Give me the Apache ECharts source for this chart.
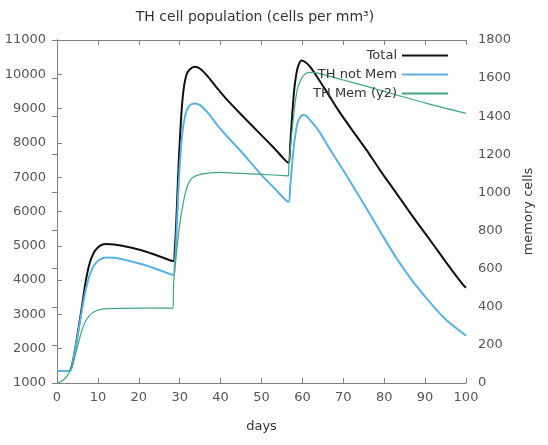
<!DOCTYPE html>
<html>
<head>
<meta charset="utf-8">
<script src="https://cdn.jsdelivr.net/npm/echarts@6/dist/echarts.min.js"></script>
<style>html,body{margin:0;padding:0;background:#fff;}#c{width:548px;height:445px;}</style>
</head>
<body>
<div id="c"></div>
<script>
var titleText = 'TH cell population (cells per mm\u00B3)';
var xTicks = {min: 0, max: 100, interval: 10};
var y1Ticks = {min: 1000, max: 11000, interval: 1000};
var y2Ticks = {min: 0, max: 1800, interval: 200};
var seriesNames = ['Total', 'TH not Mem', 'TH Mem (y2)'];

var totDays = [0,3,3.5,4,5,6,7,8,9,10,11,12,14,18,22,26,28.4,
  28.8,29.2,29.6,30,30.5,31,31.7,32.5,33.7,35,37,39,41.5,45,49.6,53,56.6,
  57,57.5,58,58.5,59,59.8,61,62,64,66,68.4,72,75.7,79,83,87,91.2,95,99.3,100];
var totVals = [1350,1350,1450,1700,2400,3150,3950,4500,4800,4950,5030,5050,5040,4950,4820,4650,4550,
  4900,5800,7000,8000,9000,9600,10000,10150,10220,10160,9920,9620,9270,8830,8270,7860,7420,
  7900,8800,9550,10000,10250,10400,10330,10200,9850,9480,9020,8400,7790,7200,6530,5850,5170,4540,3860,3780];

var notMemDays = [0,3,3.5,4,5,6,7,8,9,10,11,12,14,18,22,26,28.4,
  28.8,29.2,29.6,30,30.5,31,31.7,32.5,33.7,35,37,39,41.5,45,49.6,53,56.6,
  57,57.5,58,58.5,59,60.2,61,62,64,66.8,70,74.9,79,83,87,91.2,95,100];
var notMemVals = [1350,1350,1420,1680,2350,3050,3700,4150,4420,4560,4630,4660,4650,4550,4420,4250,4150,
  4450,5300,6400,7300,8100,8600,8950,9100,9150,9100,8860,8550,8200,7750,7120,6700,6280,
  6700,7400,8000,8400,8650,8810,8780,8650,8350,7800,7200,6240,5420,4640,3960,3350,2860,2380];

var memDays = [0,1,2,3,4,5,6,7,8,9,10,12,16,20,24,28.4,
  28.5,29,29.5,30,31,32,33,35,40,45,50,56.6,
  56.7,57,57.5,58,58.5,59,60,61,62,64,70,76,80,90,100];
var memVals = [0,8,25,55,110,190,270,325,355,372,382,390,392,393,393,393,
  520,640,740,830,960,1040,1075,1095,1105,1100,1095,1087,
  1150,1220,1330,1430,1510,1560,1605,1625,1630,1625,1590,1555,1530,1470,1415];

function zip(a, b) { return a.map(function (d, i) { return [d, b[i]]; }); }
function plain(v) { return String(v); }

var FONT = 'DejaVu Sans';
var axisLineStyle = {color: '#808080', width: 1};
var labelStyle = {color: '#555', fontSize: 13, fontFamily: FONT, formatter: plain};

var chart = echarts.init(document.getElementById('c'), null, {renderer: 'canvas'});
chart.setOption({
  animation: false,
  backgroundColor: '#fff',
  title: {
    text: titleText, left: 250, top: 5, textAlign: 'center',
    textStyle: {fontSize: 14, fontWeight: 'normal', color: '#333', fontFamily: FONT}
  },
  grid: {left: 57, right: 82, top: 40, bottom: 62},
  legend: {
    orient: 'vertical', right: 95, top: 44, align: 'right',
    icon: 'rect', itemWidth: 46, itemHeight: 2, itemGap: 6,
    textStyle: {fontSize: 13, color: '#333', fontFamily: FONT},
    data: seriesNames
  },
  xAxis: [{
    type: 'value', position: 'bottom', min: xTicks.min, max: xTicks.max, interval: xTicks.interval,
    axisLine: {show: true, lineStyle: axisLineStyle},
    axisTick: {show: true, inside: true, length: 5, lineStyle: axisLineStyle},
    axisLabel: Object.assign({margin: 8}, labelStyle),
    splitLine: {show: false},
    name: 'days', nameLocation: 'middle', nameGap: 37,
    nameTextStyle: {fontSize: 13, color: '#333', fontFamily: FONT}
  }, {
    type: 'value', position: 'top', min: xTicks.min, max: xTicks.max, interval: xTicks.interval,
    axisLine: {show: true, lineStyle: axisLineStyle},
    axisTick: {show: true, inside: true, length: 5, lineStyle: axisLineStyle},
    axisLabel: {show: false}, splitLine: {show: false}
  }],
  yAxis: [{
    type: 'value', position: 'left', min: y1Ticks.min, max: y1Ticks.max, interval: y1Ticks.interval,
    axisLine: {show: true, lineStyle: axisLineStyle},
    axisTick: {show: true, inside: true, length: 5, lineStyle: axisLineStyle},
    axisLabel: Object.assign({margin: 11}, labelStyle),
    splitLine: {show: false}
  }, {
    type: 'value', position: 'right', min: y2Ticks.min, max: y2Ticks.max, interval: y2Ticks.interval,
    axisLine: {show: true, lineStyle: axisLineStyle},
    axisTick: {show: true, inside: true, length: 5, lineStyle: axisLineStyle},
    axisLabel: Object.assign({margin: 12}, labelStyle),
    splitLine: {show: false},
    name: 'memory cells', nameLocation: 'middle', nameGap: 55, nameRotate: 90,
    nameTextStyle: {fontSize: 13, color: '#333', fontFamily: FONT}
  }],
  series: [{
    name: seriesNames[0], type: 'line', xAxisIndex: 0, yAxisIndex: 0,
    data: zip(totDays, totVals), symbol: 'none', smooth: 0.3,
    lineStyle: {color: '#111', width: 2}, itemStyle: {color: '#111'}
  }, {
    name: seriesNames[1], type: 'line', xAxisIndex: 0, yAxisIndex: 0,
    data: zip(notMemDays, notMemVals), symbol: 'none', smooth: 0.3,
    lineStyle: {color: '#5ab2e2', width: 2}, itemStyle: {color: '#5ab2e2'}
  }, {
    name: seriesNames[2], type: 'line', xAxisIndex: 0, yAxisIndex: 1,
    data: zip(memDays, memVals), symbol: 'none', smooth: 0.3,
    lineStyle: {color: '#3fa582', width: 1.2}, itemStyle: {color: '#3fa582'}
  }]
});
</script>
</body>
</html>
